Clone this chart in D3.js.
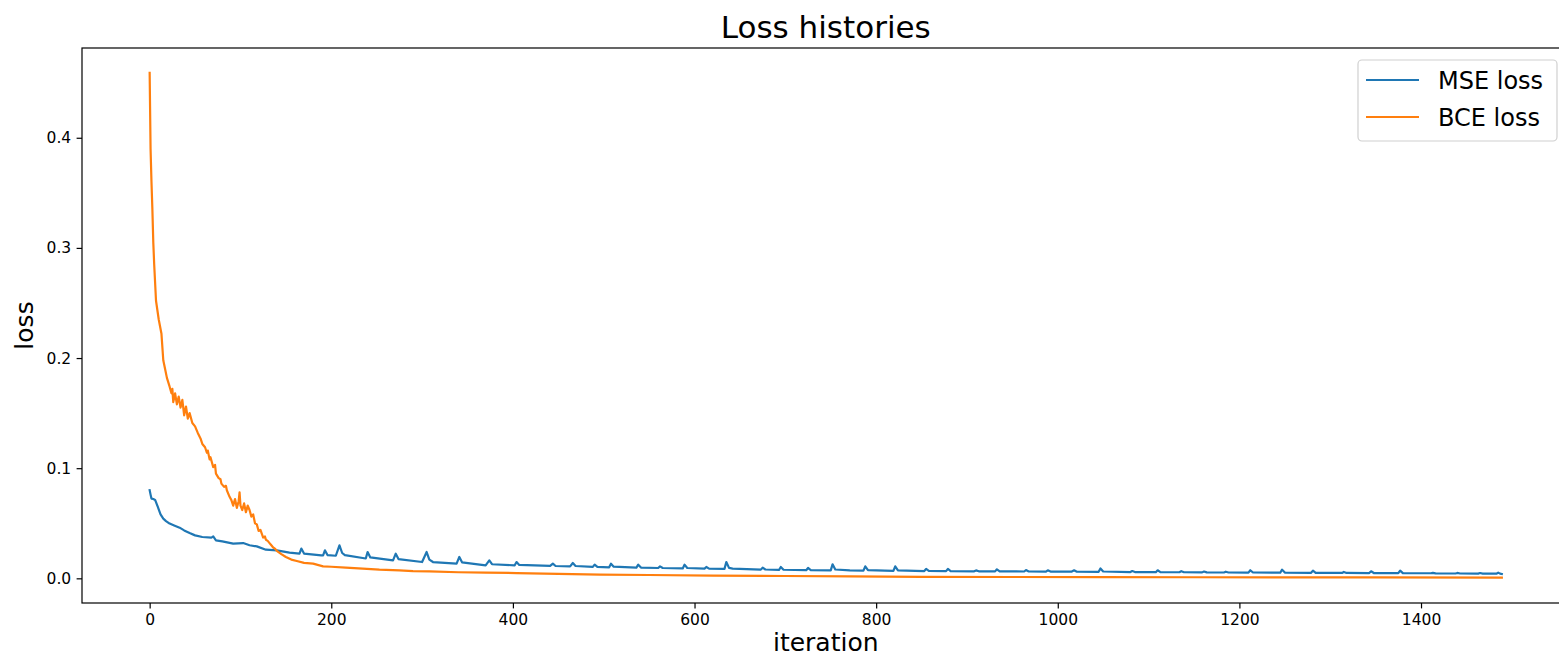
<!DOCTYPE html>
<html>
<head>
<meta charset="utf-8">
<script src="https://cdn.jsdelivr.net/npm/d3@7"></script>
<style>
  html, body { margin: 0; padding: 0; background: #fff; }
  svg { display: block; font-family: 'DejaVu Sans', sans-serif; }
</style>
</head>
<body>
<div id="chart"></div>
<script>
// values
const bceIter = [0, 1, 2, 3, 4, 5, 7, 10, 13, 15, 17, 19, 22, 24, 25, 26, 28, 30, 32, 34, 36, 38, 40, 42, 44, 47, 50, 53, 56, 58, 61, 63, 64, 66, 67, 70, 72, 73, 76, 78, 79, 82, 84, 85, 88, 90, 92, 94, 96, 98, 99, 100, 102, 104, 106, 108, 110, 112, 114, 116, 118, 120, 122, 125, 127, 128, 130, 132, 134, 136, 138, 140, 145, 150, 156, 162, 170, 180, 191, 200, 216, 230, 253, 275, 290, 308, 340, 370, 404, 450, 496, 550, 620, 700, 771, 850, 950, 1050, 1150, 1250, 1350, 1489];
const bceLoss = [0.459, 0.39, 0.36, 0.335, 0.305, 0.285, 0.252, 0.235, 0.222, 0.198, 0.19, 0.182, 0.174, 0.168, 0.172, 0.16, 0.168, 0.158, 0.165, 0.155, 0.162, 0.148, 0.156, 0.145, 0.15, 0.141, 0.138, 0.132, 0.127, 0.122, 0.119, 0.114, 0.116, 0.108, 0.11, 0.101, 0.103, 0.095, 0.091, 0.09, 0.086, 0.083, 0.084, 0.08, 0.074, 0.071, 0.066, 0.072, 0.064, 0.07, 0.078, 0.066, 0.062, 0.068, 0.06, 0.066, 0.062, 0.056, 0.058, 0.05, 0.049, 0.043, 0.044, 0.037, 0.038, 0.035, 0.034, 0.032, 0.03, 0.028, 0.027, 0.025, 0.022, 0.0194, 0.017, 0.0157, 0.014, 0.0133, 0.0109, 0.0105, 0.0097, 0.009, 0.0079, 0.0073, 0.0065, 0.0064, 0.0055, 0.0052, 0.0048, 0.004, 0.0034, 0.003, 0.0025, 0.0021, 0.0018, 0.0014, 0.0012, 0.0011, 0.001, 0.0009, 0.0008, 0.0007];

const mseIter = [0, 1, 2, 4, 6, 9, 12, 15, 18, 22, 27, 33, 38, 44, 50, 58, 68, 70, 73, 80, 92, 103, 110, 118, 128, 140, 154, 165, 167, 170, 189, 191, 193, 196, 205, 209, 212, 215, 238, 240, 243, 268, 271, 274, 300, 305, 308, 312, 338, 341, 344, 370, 374, 377, 402, 404, 407, 441, 444, 447, 463, 466, 469, 488, 490, 493, 506, 508, 511, 536, 538, 541, 560, 562, 565, 587, 589, 592, 611, 613, 616, 633, 635, 638, 642, 673, 675, 678, 693, 695, 698, 723, 725, 728, 750, 752, 755, 771, 786, 788, 791, 819, 821, 824, 853, 855, 858, 877, 879, 882, 908, 910, 913, 931, 933, 936, 963, 965, 968, 987, 989, 992, 1015, 1018, 1021, 1045, 1047, 1050, 1080, 1082, 1085, 1108, 1110, 1113, 1134, 1136, 1139, 1159, 1161, 1164, 1183, 1185, 1188, 1210, 1212, 1215, 1245, 1247, 1250, 1279, 1281, 1284, 1313, 1315, 1318, 1343, 1345, 1348, 1375, 1377, 1380, 1411, 1413, 1416, 1438, 1440, 1443, 1463, 1465, 1468, 1483, 1485, 1487, 1489];
const mseLoss = [0.08, 0.076, 0.0724, 0.072, 0.0712, 0.0648, 0.058, 0.0542, 0.052, 0.0497, 0.048, 0.046, 0.0435, 0.0411, 0.039, 0.0375, 0.037, 0.038, 0.0345, 0.0335, 0.0315, 0.032, 0.03, 0.029, 0.026, 0.0254, 0.0233, 0.0225, 0.027, 0.0225, 0.0209, 0.0209, 0.0254, 0.021, 0.0205, 0.03, 0.023, 0.021, 0.018, 0.0239, 0.019, 0.0163, 0.0224, 0.0175, 0.0148, 0.0239, 0.017, 0.0148, 0.0133, 0.0194, 0.0145, 0.0118, 0.0163, 0.0128, 0.0118, 0.0148, 0.0122, 0.0113, 0.0133, 0.0112, 0.0108, 0.0139, 0.0112, 0.0104, 0.0124, 0.0104, 0.01, 0.0133, 0.0106, 0.0097, 0.0124, 0.0098, 0.0094, 0.0109, 0.0094, 0.009, 0.0124, 0.0094, 0.0088, 0.0103, 0.0088, 0.0086, 0.0148, 0.0095, 0.0088, 0.0079, 0.0097, 0.008, 0.0076, 0.0103, 0.0078, 0.0074, 0.0094, 0.0075, 0.0072, 0.0127, 0.008, 0.0072, 0.007, 0.0109, 0.0074, 0.0068, 0.0109, 0.0072, 0.0066, 0.0085, 0.0067, 0.0065, 0.0085, 0.0066, 0.0064, 0.0072, 0.0064, 0.0063, 0.0082, 0.0064, 0.0062, 0.0075, 0.0062, 0.0061, 0.0073, 0.0061, 0.006, 0.0073, 0.006, 0.0059, 0.009, 0.0062, 0.0057, 0.0066, 0.0057, 0.0056, 0.0073, 0.0057, 0.0055, 0.0065, 0.0055, 0.0054, 0.0062, 0.0054, 0.0053, 0.006, 0.0053, 0.0052, 0.0073, 0.0053, 0.0051, 0.0079, 0.0052, 0.005, 0.007, 0.005, 0.0049, 0.0058, 0.0049, 0.0048, 0.0064, 0.0048, 0.0047, 0.007, 0.0047, 0.0046, 0.005, 0.0045, 0.0044, 0.0049, 0.0044, 0.0043, 0.0048, 0.0043, 0.0042, 0.0052, 0.0043, 0.0039];

const xTicks = [0, 200, 400, 600, 800, 1000, 1200, 1400];
const yTicks = [0.0, 0.1, 0.2, 0.3, 0.4];
const seriesNames = ['MSE loss', 'BCE loss'];
const seriesColors = ['#1f77b4', '#ff7f0e'];

const width = 1559, height = 660;
const margin = { left: 82, top: 48, right: 1569.5, bottom: 603 };

const svg = d3.select('#chart')
  .append('svg')
  .attr('width', width)
  .attr('height', height);

const x = d3.scaleLinear().domain([-74.5, 1563.5]).range([margin.left, margin.right]);
const y = d3.scaleLinear().domain([-0.0224, 0.4815]).range([margin.bottom, margin.top]);

const line = d3.line()
  .x(d => x(d[0]))
  .y(d => y(d[1]));

const mseData = d3.zip(mseIter, mseLoss);
const bceData = d3.zip(bceIter, bceLoss);

[mseData, bceData].forEach((data, i) => {
  svg.append('path')
    .datum(data)
    .attr('fill', 'none')
    .attr('stroke', seriesColors[i])
    .attr('stroke-width', 2.2)
    .attr('stroke-linejoin', 'round')
    .attr('stroke-linecap', 'square')
    .attr('d', line);
});

// axes
const xAxis = svg.append('g')
  .attr('transform', `translate(0,${margin.bottom})`)
  .call(d3.axisBottom(x).tickValues(xTicks).tickSize(5.4).tickPadding(5.4).tickFormat(d3.format('d')));

const yAxis = svg.append('g')
  .attr('transform', `translate(${margin.left},0)`)
  .call(d3.axisLeft(y).tickValues(yTicks).tickSize(5.4).tickPadding(5.4).tickFormat(d3.format('.1f')));

[xAxis, yAxis].forEach(g => {
  g.select('.domain').remove();
  g.selectAll('line').attr('stroke', '#000').attr('stroke-width', 1.2);
  g.selectAll('text')
    .attr('fill', '#000')
    .attr('font-family', 'DejaVu Sans, sans-serif')
    .attr('font-size', '15.5px');
});

// frame
svg.append('rect')
  .attr('x', margin.left)
  .attr('y', margin.top)
  .attr('width', margin.right - margin.left)
  .attr('height', margin.bottom - margin.top)
  .attr('fill', 'none')
  .attr('stroke', '#000')
  .attr('stroke-width', 1.2);

// labels
const cx = (margin.left + margin.right) / 2;
svg.append('text')
  .attr('x', cx)
  .attr('y', 38)
  .attr('text-anchor', 'middle')
  .attr('font-size', '31px')
  .text('Loss histories');

svg.append('text')
  .attr('x', cx)
  .attr('y', 651)
  .attr('text-anchor', 'middle')
  .attr('font-size', '25px')
  .text('iteration');

svg.append('text')
  .attr('transform', `translate(33,${(margin.top + margin.bottom) / 2}) rotate(-90)`)
  .attr('text-anchor', 'middle')
  .attr('font-size', '25px')
  .text('loss');

// legend
const legend = svg.append('g');
legend.append('rect')
  .attr('x', 1358)
  .attr('y', 60)
  .attr('width', 199)
  .attr('height', 81)
  .attr('rx', 4)
  .attr('fill', '#fff')
  .attr('fill-opacity', 0.8)
  .attr('stroke', '#d0d0d0')
  .attr('stroke-width', 1.2);

seriesNames.forEach((name, i) => {
  const ly = 80 + i * 37;
  legend.append('line')
    .attr('x1', 1366).attr('x2', 1419)
    .attr('y1', ly).attr('y2', ly)
    .attr('stroke', seriesColors[i])
    .attr('stroke-width', 2.2);
  legend.append('text')
    .attr('x', 1438)
    .attr('y', ly)
    .attr('dy', '0.36em')
    .attr('font-size', '24px')
    .text(name);
});
</script>
</body>
</html>
